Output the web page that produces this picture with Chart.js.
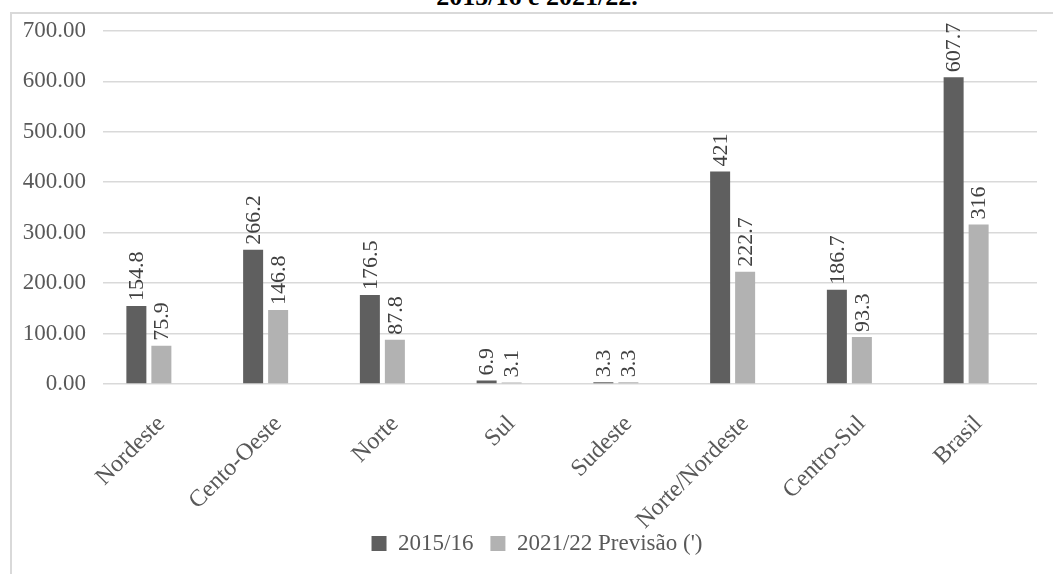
<!DOCTYPE html>
<html>
<head>
<meta charset="utf-8">
<script src="https://cdn.jsdelivr.net/npm/chart.js@4.4.1/dist/chart.umd.min.js"></script>
<style>
  html, body { margin: 0; padding: 0; background: #fff; overflow: hidden; }
  #wrap { position: relative; width: 1053px; height: 574px; overflow: hidden; }
  #titulo {
    position: absolute; left: 0; top: -16px; width: 1074px;
    text-align: center; font: bold 26px "Liberation Serif", serif;
    line-height: 26px; color: #000;
  }
  #moldura {
    position: absolute; left: 10px; top: 12px; width: 1100px; height: 600px;
    border-top: 2px solid #d9d9d9; border-left: 2px solid #d9d9d9;
  }
  #grafico { position: absolute; left: 0; top: 0; }
</style>
</head>
<body>
<div id="wrap">
  <div id="titulo">2015/16 e 2021/22.</div>
  <div id="moldura"></div>
  <canvas id="grafico" width="1074" height="574"></canvas>
</div>
<script>
// regioes e valores
var regioes = ['Nordeste', 'Cento-Oeste', 'Norte', 'Sul', 'Sudeste', 'Norte/Nordeste', 'Centro-Sul', 'Brasil'];
var safra1516 = [154.8, 266.2, 176.5, 6.9, 3.3, 421, 186.7, 607.7];
var previsao2122 = [75.9, 146.8, 87.8, 3.1, 3.3, 222.7, 93.3, 316];
var vazio = [null, null, null, null, null, null, null, null];
var eixoY = [0, 100, 200, 300, 400, 500, 600, 700];

var fonte = "'Liberation Serif', 'Times New Roman', serif";

// rotulos de valor em pe sobre cada barra
var rotulos = {
  id: 'rotulos',
  // deixa os nomes longos do eixo x descerem um pouco sobre a legenda
  afterLayout: function (chart) {
    chart.scales.x.bottom += 16;
  },
  afterDatasetsDraw: function (chart) {
    var ctx = chart.ctx;
    chart.data.datasets.forEach(function (ds, i) {
      if (!ds.rotulo) return;
      chart.getDatasetMeta(i).data.forEach(function (bar, j) {
        var v = ds.data[j];
        if (v == null) return;
        ctx.save();
        ctx.font = '22px ' + fonte;
        ctx.fillStyle = '#404040';
        ctx.textAlign = 'left';
        ctx.textBaseline = 'middle';
        ctx.translate(bar.x, bar.y - 5);
        ctx.rotate(-Math.PI / 2);
        ctx.fillText(String(v), 0, 1);
        ctx.restore();
      });
    });
  }
};

var ctx = document.getElementById('grafico');
var myChart = new Chart(ctx, {
  type: 'bar',
  data: {
    labels: regioes,
    datasets: [{
      label: '2015/16',
      data: safra1516,
      backgroundColor: '#5f5f5f',
      rotulo: true
    }, {
      label: "2021/22 Previsão (')",
      data: previsao2122,
      backgroundColor: '#b2b2b2',
      rotulo: true
    }, {
      label: '',
      data: vazio,
      backgroundColor: '#ffffff'
    }]
  },
  options: {
    responsive: false,
    animation: false,
    categoryPercentage: 0.6424,
    barPercentage: 0.8,
    layout: { padding: { top: 30, left: 0, right: 0, bottom: 9 } },
    plugins: {
      title: { display: false },
      tooltip: { enabled: false },
      legend: {
        position: 'bottom',
        labels: {
          filter: function (item) { return item.text !== ''; },
          boxWidth: 15,
          boxHeight: 15,
          padding: 17,
          color: '#595959',
          font: { family: fonte, size: 23 }
        }
      }
    },
    scales: {
      x: {
        grid: { display: false },
        border: { display: false },
        ticks: {
          autoSkip: false,
          minRotation: 45,
          maxRotation: 45,
          padding: 18,
          color: '#595959',
          font: { family: fonte, size: 24 }
        },
        afterFit: function (s) { s.height = 131; }
      },
      y: {
        min: 0,
        max: 700,
        border: { display: false },
        grid: { color: '#d9d9d9', lineWidth: 1.5, drawTicks: false },
        afterBuildTicks: function (s) {
          s.ticks = eixoY.map(function (v) { return { value: v }; });
        },
        afterFit: function (s) { s.width = 103; },
        ticks: {
          padding: 17,
          color: '#595959',
          font: { family: fonte, size: 23 },
          callback: function (v) { return Number(v).toFixed(2); }
        }
      },
      // margem direita vazia
      margem: {
        type: 'linear',
        position: 'right',
        grid: { display: false },
        border: { display: false },
        ticks: { display: false },
        afterFit: function (s) { s.width = 37; }
      }
    }
  },
  plugins: [rotulos]
});
</script>
</body>
</html>
